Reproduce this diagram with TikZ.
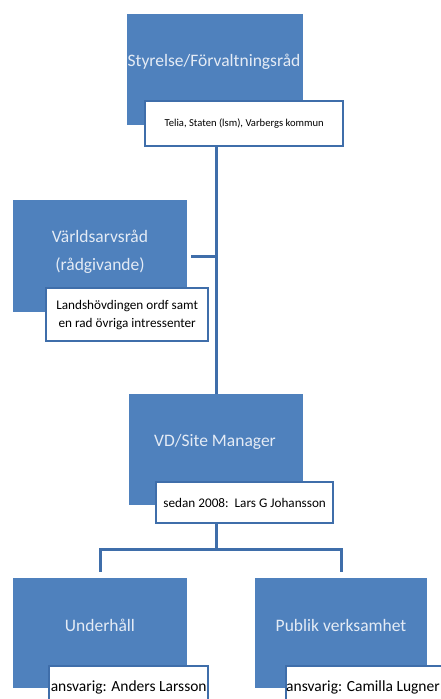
\documentclass[tikz,border=0pt]{standalone}
\usepackage{fontspec}
\setmainfont{Carlito}
\definecolor{orgblue}{HTML}{4F81BD}
\definecolor{orgedge}{HTML}{3F6EAA}
\definecolor{boxtxt}{HTML}{E4EBF5}
\tikzset{
  orgbox/.style={fill=orgblue, anchor=north west, inner sep=0pt},
  boxtext/.style={text=boxtxt, font=\fontsize{17.5}{28}\selectfont, align=center, inner sep=0pt},
  orglabel/.style={draw=orgedge, line width=2.4pt, fill=white, anchor=north west, inner xsep=0pt, inner ysep=0pt, align=center},
  orglink/.style={draw=orgedge, line width=3pt}
}
\begin{document}
\begin{tikzpicture}[x=1pt,y=1pt,yscale=-1,xscale=1]
\useasboundingbox (0,0) rectangle (441,699);
\clip (0,0) rectangle (441,699);

%Boxes
\node[orgbox, minimum width=176pt, minimum height=111pt] (styrelse) at (127,14) {};
\node[orgbox, minimum width=174pt, minimum height=112pt] (varld) at (13,200) {};
\node[orgbox, minimum width=174pt, minimum height=111pt] (vd) at (129,394) {};
\node[orgbox, minimum width=174pt, minimum height=110pt] (underhall) at (13,578) {};
\node[orgbox, minimum width=172pt, minimum height=110pt] (publik) at (255,578) {};

%Box texts
\node[boxtext] (styrelsetxt) at (214,62) {Styrelse/Förvaltningsråd};
\node[boxtext] (varldtxt) at (100,252) {Världsarvsråd\\(rådgivande)};
\node[boxtext] (vdtxt) at (215,442) {VD/Site Manager};
\node[boxtext] (underhalltxt) at (100,625) {Underhåll};
\node[boxtext] (publiktxt) at (341,625) {Publik verksamhet};

%Labels
\node[orglabel, minimum width=198pt, minimum height=45pt, font=\fontsize{10.6}{12}\selectfont] (telia) at (144,100) {Telia, Staten (lsm), Varbergs kommun};
\node[orglabel, minimum width=162pt, minimum height=53pt, font=\fontsize{13.2}{18}\selectfont] (landsh) at (45,287) {Landshövdingen ordf samt\\en rad övriga intressenter};
\node[orglabel, minimum width=177pt, minimum height=41pt, font=\fontsize{13.2}{15}\selectfont] (sedan) at (155,481) {sedan 2008:\ \ Lars G Johansson};
\node[orglabel, minimum width=159pt, minimum height=42pt, font=\fontsize{15.5}{17}\selectfont] (ansvar1) at (48,665) {\makebox[159pt]{ansvarig: Anders Larsson}};
\node[orglabel, minimum width=162pt, minimum height=42pt, font=\fontsize{15.5}{17}\selectfont] (ansvar2) at (285,665) {\makebox[162pt][l]{ansvarig: Camilla Lugner}};

%Connectors
\coordinate (fork) at (vd.north |- 0,549);
\draw[orglink] (telia.south -| vd.north) -- (vd.north);
\draw[orglink, shorten <=4pt] (varld.east) -- (varld.east -| vd.north);
\draw[orglink] (sedan.south -| vd.north) -- (fork);
\draw[orglink, shorten >=6pt] (fork) -| (underhall.north);
\draw[orglink, shorten >=6pt] (fork) -| (publik.north);

\end{tikzpicture}
\end{document}
